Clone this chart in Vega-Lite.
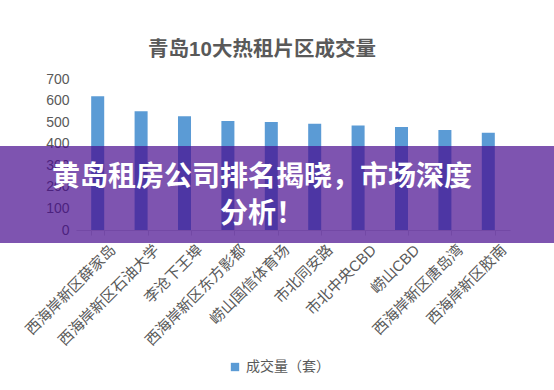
{
  "$schema": "https://vega.github.io/schema/vega-lite/v6.json",
  "width": 434,
  "height": 151,
  "autosize": {"type": "none"},
  "padding": {"left": 76, "top": 79, "right": 44, "bottom": 160},
  "background": "white",
  "config": {
    "view": {"stroke": null},
    "font": "Liberation Sans, Noto Sans CJK SC"
  },
  "title": {
    "text": "青岛10大热租片区成交量",
    "fontSize": 20.5,
    "fontWeight": "bold",
    "color": "#595959",
    "font": "Liberation Sans, Noto Sans CJK SC",
    "offset": 12,
    "dx": -31
  },
  "datasets": {
    "bars": [
      {"区域": "西海岸新区薛家岛", "成交量": 620},
      {"区域": "西海岸新区石油大学", "成交量": 550},
      {"区域": "李沧下王埠", "成交量": 527},
      {"区域": "西海岸新区东方影都", "成交量": 505},
      {"区域": "崂山国信体育场", "成交量": 501},
      {"区域": "市北同安路", "成交量": 493},
      {"区域": "市北中央CBD", "成交量": 485},
      {"区域": "崂山CBD", "成交量": 477},
      {"区域": "西海岸新区唐岛湾", "成交量": 464},
      {"区域": "西海岸新区胶南", "成交量": 451}
    ],
    "banner": [
      {"x0": 0, "x1": 554, "y0": 389, "y1": -60, "tx": 262, "ty": 240, "text": "黄岛租房公司排名揭晓，市场深度\n分析！"}
    ]
  },
  "layer": [
    {
      "data": {"name": "bars"},
      "mark": {"type": "bar", "color": "#5B9BD5"},
      "encoding": {
        "x": {
          "field": "区域",
          "type": "nominal",
          "sort": null,
          "scale": {"paddingInner": 0.7, "paddingOuter": 0.35},
          "axis": {
            "title": null,
            "labelAngle": -45,
            "labelFontSize": 15,
            "labelFont": "Liberation Sans, Noto Sans CJK SC",
            "labelColor": "#595959",
            "labelPadding": 7,
            "labelOffset": 10,
            "labelOverlap": false,
            "domainColor": "#d9d9d9",
            "tickColor": "#d9d9d9",
            "tickBand": "extent",
            "tickSize": 5
          }
        },
        "y": {
          "field": "成交量",
          "type": "quantitative",
          "scale": {"domain": [0, 700]},
          "axis": {
            "title": null,
            "values": [0, 100, 200, 300, 400, 500, 600, 700],
            "domain": false,
            "ticks": false,
            "grid": false,
            "labelFontSize": 14,
            "labelColor": "#595959",
            "labelPadding": 7
          }
        },
        "color": {
          "datum": "成交量（套）",
          "type": "nominal",
          "scale": {"range": ["#5B9BD5"]},
          "legend": {
            "title": null,
            "orient": "none",
            "legendX": 152,
            "legendY": 281,
            "symbolType": "square",
            "symbolSize": 70,
            "symbolStrokeWidth": 0,
            "labelFontSize": 14,
            "labelColor": "#595959",
            "labelOffset": 4
          }
        }
      }
    },
    {
      "data": {"name": "banner"},
      "mark": {"type": "rect", "color": "#470C8E", "opacity": 0.7, "clip": false},
      "encoding": {
        "x": {"field": "x0", "type": "quantitative", "scale": {"domain": [76, 510], "nice": false, "zero": false}, "axis": null},
        "x2": {"field": "x1"},
        "y": {"field": "y0", "type": "quantitative", "scale": {"domain": [0, 700], "nice": false}, "axis": null},
        "y2": {"field": "y1"}
      }
    },
    {
      "data": {"name": "banner"},
      "mark": {
        "type": "text",
        "color": "white",
        "fontSize": 28,
        "fontWeight": "bold",
        "font": "Noto Sans CJK SC",
        "align": "center",
        "baseline": "middle",
        "lineBreak": "\n",
        "lineHeight": 37,
        "clip": false
      },
      "encoding": {
        "x": {"field": "tx", "type": "quantitative", "scale": {"domain": [76, 510], "nice": false, "zero": false}, "axis": null},
        "y": {"field": "ty", "type": "quantitative", "scale": {"domain": [0, 700], "nice": false}, "axis": null},
        "text": {"field": "text"}
      }
    }
  ],
  "resolve": {"scale": {"x": "independent", "y": "independent"}}
}
